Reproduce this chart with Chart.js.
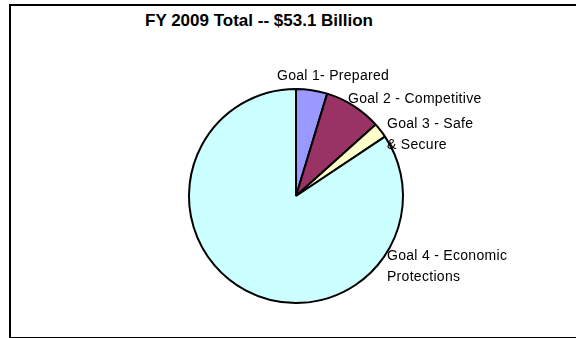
<!DOCTYPE html>
<html>
<head>
<meta charset="utf-8">
<script src="https://cdn.jsdelivr.net/npm/chart.js@4.4.1/dist/chart.umd.min.js"></script>
<style>
  html, body { margin: 0; padding: 0; background: #fff; }
  #wrap { position: relative; width: 576px; height: 338px; overflow: hidden; }
  #frame {
    position: absolute; left: 9px; top: 4px; width: 600px; height: 331px;
    border: 2px solid #000; box-sizing: content-box;
  }
  #title {
    position: absolute; left: 0; width: 518px; top: 11px;
    text-align: center; font: bold 17px "Liberation Sans", Arial, sans-serif;
    line-height: 20px; color: #000;
  }
  canvas { position: absolute; left: 0; top: 0; }
</style>
</head>
<body>
<div id="wrap">
  <div id="frame"></div>
  <div id="title">FY 2009 Total -- $53.1 Billion</div>
  <canvas id="pie" width="576" height="338"></canvas>
</div>
<script>
// Chart data (billions of dollars)
const goalLabels = [
    ['Goal 1- Prepared'],
    ['Goal 2 - Competitive'],
    ['Goal 3 - Safe', '& Secure'],
    ['Goal 4 - Economic', 'Protections']
];
const goalValues = [2.5, 4.6, 1.2, 44.8];
const goalColors = ['#9999FF', '#993366', '#FFFFCC', '#CCFFFF'];

// Where each label sits, relative to the pie centre in units of the radius
// (these labels were hand placed in the original, not on the slice mid-angles)
const labelSpots = [[-0.178, -1.121], [0.486, -0.907], [0.850, -0.673], [0.850, 0.561]];

const outsideLabels = {
    id: 'outsideLabels',
    afterDraw(chart) {
        const ctx = chart.ctx;
        const arc = chart.getDatasetMeta(0).data[0];
        const r = arc.outerRadius;
        ctx.save();
        ctx.font = '14px "Liberation Sans", Arial, sans-serif';
        ctx.letterSpacing = '0.3px';
        ctx.fillStyle = '#000';
        ctx.textAlign = 'left';
        ctx.textBaseline = 'middle';
        goalLabels.forEach((lines, i) => {
            const x = arc.x + labelSpots[i][0] * r;
            const y = arc.y + labelSpots[i][1] * r;
            lines.forEach((line, j) => ctx.fillText(line, x, y + j * 21));
        });
        ctx.restore();
    }
};

new Chart(document.getElementById('pie').getContext('2d'), {
    type: 'pie',
    data: {
        labels: goalLabels.map(l => l.join(' ')),
        datasets: [{
            data: goalValues,
            backgroundColor: goalColors,
            borderColor: '#000',
            borderWidth: 2
        }]
    },
    options: {
        responsive: false,
        animation: false,
        layout: { padding: { top: 88, bottom: 34, left: 16, right: 0 } },
        plugins: {
            legend: { display: false },
            tooltip: { enabled: false }
        }
    },
    plugins: [outsideLabels]
});
</script>
</body>
</html>
